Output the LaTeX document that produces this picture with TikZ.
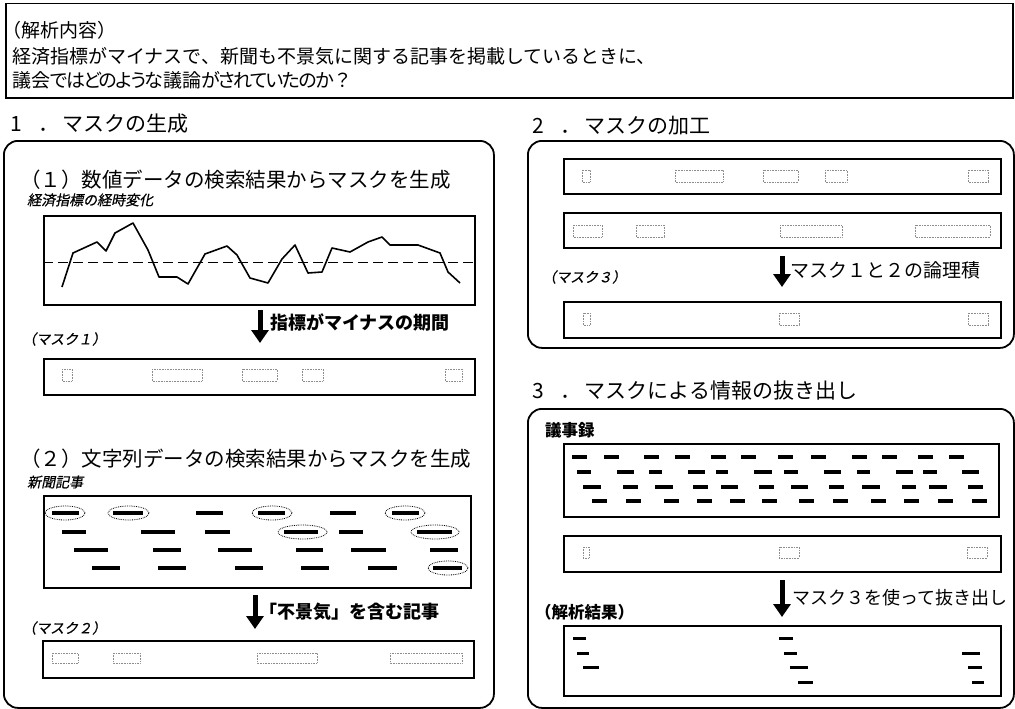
\documentclass[tikz,border=0pt]{standalone}
\usepackage{fontspec}
\setmainfont{Noto Sans CJK JP}
\newfontfamily\jpit{Noto Sans CJK JP}[FakeSlant=0.2, FakeBold=0.6]
\newfontfamily\jptight{Noto Sans CJK JP}[RawFeature=+palt, LetterSpace=-9]
\usetikzlibrary{arrows.meta}
\newcommand\bx[6]{\node[#1, anchor=north west, minimum width=#4pt, minimum height=#5pt, inner sep=0pt] (#6) at (#2,#3) {};}
\newcommand\numtitle[2]{#1\hspace{17pt}．\hspace{3pt}#2}
\newcommand\kn[1]{{\jptight #1}}
\begin{document}
\begin{tikzpicture}[x=1pt,y=-1pt,
 panel/.style={draw, line width=1.8pt, rounded corners=14pt},
 box/.style={draw, line width=1.5pt},
 hole/.style={draw=black!45, densely dotted, line width=0.6pt},
 dashbar/.style={line width=4.5pt},
 minbar/.style={line width=3.5pt},
 resbar/.style={line width=3pt},
 ring/.style={draw, densely dotted, line width=0.8pt},
 bigarrow/.style={line width=5pt, -{Triangle[length=13pt,width=17pt]}},
 title/.style={font=\fontsize{21}{21}\selectfont, anchor=west, inner sep=0pt},
 sub/.style={font=\fontsize{20.5}{20.5}\selectfont, anchor=west, inner sep=0pt},
 toptext/.style={font=\fontsize{19}{19}\selectfont, anchor=west, inner sep=0pt},
 lbl/.style={font=\bfseries\fontsize{18}{18}\selectfont, anchor=west, inner sep=0pt},
 rlbl/.style={font=\fontsize{19}{19}\selectfont, anchor=west, inner sep=0pt},
 itl/.style={font=\jpit\fontsize{14}{14}\selectfont, anchor=west, inner sep=0pt},
 bl/.style={font=\bfseries\fontsize{16.5}{16.5}\selectfont, anchor=west, inner sep=0pt},
]
\useasboundingbox (0,0) rectangle (1015,709);

% ---------- top box ----------
\bx{box}{5}{3}{1007}{94}{topbox}
\node[toptext] (t1) at (2,30) {（解析内容）};
\node[toptext] (t2) at (12,56) {経済指標がマイナスで、新聞も不景気に関する記事を掲載しているときに、};
\node[toptext] (t3) at (12,80) {議会\kn{ではどのような}議論\kn{がされていたのか}？};

% ---------- section 1 ----------
\node[title] (s1) at (10,124) {\numtitle{1}{マスクの生成}};
\bx{panel}{3}{140}{490}{567}{p1}

\node[sub] (ss1) at (20,180) {（１）数値データの検索結果からマスクを生成};
\node[itl] (cl) at (27,200) {経済指標の経時変化};
\bx{box}{43}{215}{431}{89}{chart}
\draw[line width=1pt, dash pattern=on 10pt off 5pt] (chart.west |- 0,262) -- (chart.east |- 0,262);
\draw[line width=1.6pt, line join=round]
 (62,287) -- (73,253) -- (97,242) -- (106,251) -- (115,233) -- (133,223) -- (148,250)
 -- (159,277) -- (177,277) -- (188,284) -- (205,254) -- (227,246) -- (237,255) -- (250,278)
 -- (268,283) -- (282,259) -- (295,245) -- (308,273) -- (322,272) -- (332,248) -- (350,252)
 -- (368,242) -- (382,237) -- (390,245) -- (418,245) -- (440,253) -- (448,272) -- (460,283);

\coordinate (a1s) at (260,310);
\coordinate (a1e) at (260,343);
\draw[bigarrow] (a1s) -- (a1e);
\node[lbl] (l1) at (270,322) {指標がマイナスの期間};
\node[itl] (m1l) at (22,339) {（マスク１）};
\bx{box}{43}{358}{431}{36}{mask1}
\foreach \a/\b in {62/72,152/202,242/277,302/323,445/462}
  \draw[hole] (\a,369) rectangle (\b,381);

\node[sub] (ss2) at (20,459) {（２）文字列データの検索結果からマスクを生成};
\node[itl] (nl) at (27,482) {新聞記事};
\bx{box}{43}{495}{427}{92}{news}
\foreach \a/\b in {52/79,113/143,196/223,258/285,330/356,392/419}
  \draw[dashbar] (\a,513) -- (\b,513);
\foreach \a/\b in {62/86,141/175,205/230,284/318,339/363,417/452}
  \draw[dashbar] (\a,532) -- (\b,532);
\foreach \a/\b in {74/108,153/181,218/252,296/323,351/386,430/458}
  \draw[dashbar] (\a,550) -- (\b,550);
\foreach \a/\b in {92/120,158/186,235/263,301/329,368/397,433/462}
  \draw[dashbar] (\a,568) -- (\b,568);
\foreach \cx/\cy/\rx in {65/513/20,128.5/513/20.5,272/513/20,405/513/20,302.5/532/24.5,435/532/24,448/568/20}
  \draw[ring] (\cx,\cy) ellipse [x radius=\rx pt, y radius=7pt];

\coordinate (a2s) at (255,595);
\coordinate (a2e) at (255,629);
\draw[bigarrow] (a2s) -- (a2e);
\node[lbl] (l2) at (259,612) {「不景気」を含む記事};
\node[itl] (m2l) at (22,628) {（マスク２）};
\bx{box}{42}{640}{431}{37}{mask2}
\foreach \a/\b in {52/78,113/140,257/317,390/462}
  \draw[hole] (\a,653) rectangle (\b,663);

% ---------- section 2 ----------
\node[title] (s2) at (532,126) {\numtitle{2}{マスクの加工}};
\bx{panel}{527}{140}{486}{207}{p2}
\bx{box}{563}{158}{437}{35}{maskA}
\foreach \a/\b in {582/590,675/723,763/798,825/847,968/988}
  \draw[hole] (\a,170) rectangle (\b,182);
\bx{box}{563}{212}{437}{35}{maskB}
\foreach \a/\b in {573/602,636/664,780/842,915/990}
  \draw[hole] (\a,225) rectangle (\b,237);
\coordinate (a3s) at (782,256);
\coordinate (a3e) at (782,287);
\draw[bigarrow] (a3s) -- (a3e);
\node[rlbl] (l3) at (790,270) {マスク１と２の論理積};
\node[itl] (m3l) at (542,277) {（マスク３）};
\bx{box}{563}{301}{437}{36}{mask3}
\foreach \a/\b in {583/590,779/799,968/988}
  \draw[hole] (\a,313) rectangle (\b,325);

% ---------- section 3 ----------
\node[title] (s3) at (532,391) {\numtitle{3}{マスクによる情報の抜き出し}};
\bx{panel}{527}{408}{486}{299}{p3}
\node[bl] (gl) at (545,430) {議事録};
\bx{box}{563}{443}{435}{73}{minutes}
\foreach \a in {572,604,644,675,711,741,778,811,852,882,918,949}
  \draw[minbar] (\a,457) -- ++(15,0);
\foreach \a/\b in {577/591,617/634,649/662,688/705,716/728,754/772,784/798,824/841,857/870,896/913,923/937,962/979}
  \draw[minbar] (\a,472) -- (\b,472);
\foreach \a/\b in {583/601,623/638,655/673,693/708,721/738,759/774,791/808,829/844,862/880,902/916,929/947,968/983}
  \draw[minbar] (\a,487) -- (\b,487);
\foreach \a in {592,626,664,697,730,762,799,833,871,904,938,972}
  \draw[minbar] (\a,501) -- ++(15,0);
\bx{box}{563}{535}{437}{36}{mask3b}
\foreach \a/\b in {583/589,779/799,967/987}
  \draw[hole] (\a,547) rectangle (\b,558);
\coordinate (a4s) at (782,580);
\coordinate (a4e) at (782,617);
\draw[bigarrow] (a4s) -- (a4e);
\node[rlbl, font=\fontsize{18}{18}\selectfont] (l4) at (792,598) {マスク３を使って抜き出し};
\node[bl] (rl) at (535,612) {（解析結果）};
\bx{box}{563}{625}{437}{70}{result}
\foreach \a/\b/\y in {573/586/638,577/589/653,583/599/667,779/793/638,784/797/653,790/808/667,798/813/682,962/980/653,968/982/667,972/984/682}
  \draw[resbar] (\a,\y) -- (\b,\y);
\end{tikzpicture}
\end{document}
